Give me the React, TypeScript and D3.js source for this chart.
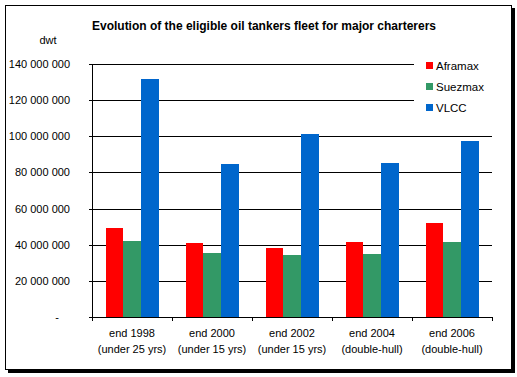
import React from "react";
import * as d3 from "d3";

const categoriesLine1 = ["end 1998", "end 2000", "end 2002", "end 2004", "end 2006"];
const categoriesLine2 = ["(under 25 yrs)", "(under 15 yrs)", "(under 15 yrs)", "(double-hull)", "(double-hull)"];
const seriesNames = ["Aframax", "Suezmax", "VLCC"];
const seriesColors = ["#FF0000", "#339966", "#0066CC"];
const aframax = [49300000, 41000000, 38200000, 41500000, 52000000];
const suezmax = [42100000, 35400000, 34300000, 34900000, 41500000];
const vlcc = [131700000, 84700000, 101300000, 85200000, 97400000];
const yTicks = [0, 20000000, 40000000, 60000000, 80000000, 100000000, 120000000, 140000000];

const seriesValues = [aframax, suezmax, vlcc];

function fmt(v: number): string {
  if (v === 0) return "-";
  return d3.format(",")(v).replace(/,/g, " ");
}

export default function App() {
  const W = 517, H = 377;
  const left = 92, right = 492, top = 64, bottom = 317;
  const font = "Arial, 'Liberation Sans', sans-serif";

  const x = d3.scaleBand<number>().domain(d3.range(categoriesLine1.length)).range([left, right]).paddingInner(0.3375).paddingOuter(0.16875);
  const xs = d3.scaleBand<number>().domain(d3.range(seriesNames.length)).range([0, x.bandwidth()]);
  const y = d3.scaleLinear().domain([0, 140000000]).range([bottom, top]);

  return (
    <svg width={W} height={H} style={{ position: "absolute", left: 0, top: 0, fontFamily: font }}>
      <rect x={0} y={0} width={W} height={H} fill="#fff" />
      {/* shadow */}
      <rect x={8} y={370} width={507} height={3} fill="#000" />
      <rect x={512} y={8} width={3} height={365} fill="#000" />
      <rect x={5.5} y={5.5} width={506} height={364} fill="#fff" stroke="#000" strokeWidth={1} />

      <text x={264} y={30} textAnchor="middle" fontSize={12} fontWeight="bold" fill="#000">
        Evolution of the eligible oil tankers fleet for major charterers
      </text>
      <text x={48} y={44} textAnchor="middle" fontSize={11} fill="#000">dwt</text>

      {yTicks.map((t) => (
        <g key={t}>
          {t > 0 && (
            <line x1={left} x2={right} y1={Math.round(y(t)) + 0.5} y2={Math.round(y(t)) + 0.5} stroke="#000" strokeWidth={1} />
          )}
          <line x1={left - 3} x2={left} y1={Math.round(y(t)) + 0.5} y2={Math.round(y(t)) + 0.5} stroke="#000" />
          <text x={t === 0 ? 59 : 70} y={y(t) + 4} textAnchor="end" fontSize={11} fill="#000">
            {fmt(t)}
          </text>
        </g>
      ))}

      {seriesValues.map((vals, si) =>
        vals.map((v, ci) => (
          <rect
            key={`${si}-${ci}`}
            x={(x(ci) as number) + (xs(si) as number)}
            y={y(v)}
            width={xs.bandwidth()}
            height={bottom - y(v)}
            fill={seriesColors[si]}
            shapeRendering="crispEdges"
          />
        ))
      )}

      <line x1={left + 0.5} x2={left + 0.5} y1={top} y2={bottom} stroke="#000" />
      <line x1={left} x2={right} y1={bottom + 0.5} y2={bottom + 0.5} stroke="#000" />
      {d3.range(categoriesLine1.length + 1).map((i) => {
        const px = Math.round(left + (i * (right - left)) / categoriesLine1.length) + 0.5;
        return <line key={i} x1={px} x2={px} y1={bottom} y2={bottom + 4} stroke="#000" />;
      })}
      {categoriesLine1.map((c, i) => {
        const cx = (x(i) as number) + x.bandwidth() / 2;
        return (
          <g key={c}>
            <text x={cx} y={337} textAnchor="middle" fontSize={11} fill="#000">{c}</text>
            <text x={cx} y={353} textAnchor="middle" fontSize={11} fill="#000">{categoriesLine2[i]}</text>
          </g>
        );
      })}

      {/* legend */}
      <rect x={414} y={52} width={92} height={68} fill="#fff" />
      {seriesNames.map((n, i) => (
        <g key={n}>
          <rect x={426} y={62 + i * 21} width={7} height={7} fill={seriesColors[i]} />
          <text x={436} y={70 + i * 21} fontSize={11.5} fill="#000">{n}</text>
        </g>
      ))}
    </svg>
  );
}
